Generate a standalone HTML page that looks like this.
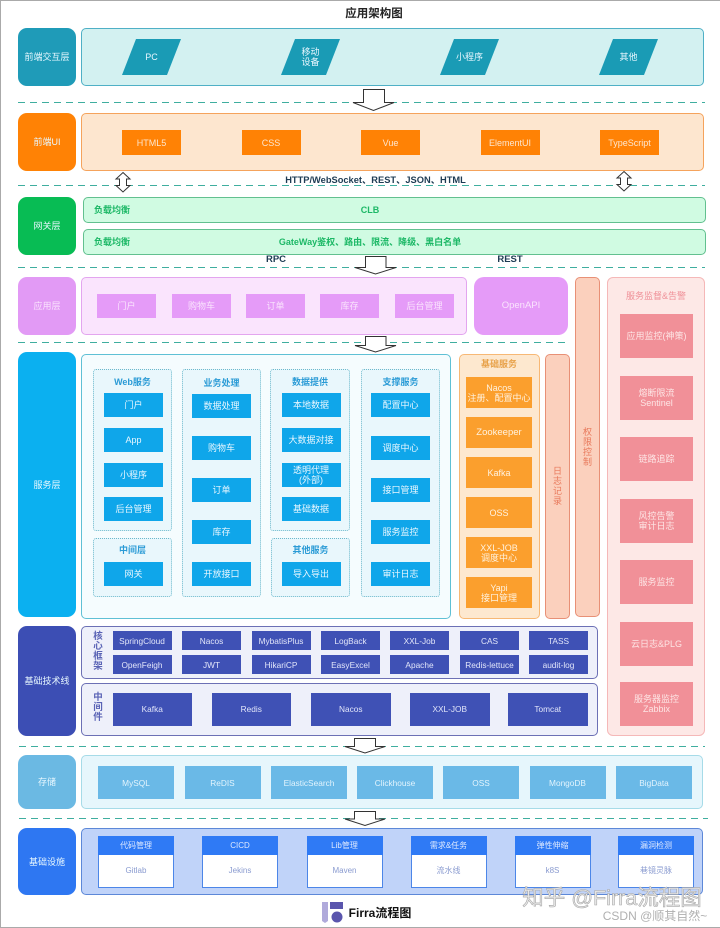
<!DOCTYPE html>
<html lang="zh">
<head>
<meta charset="utf-8">
<title>应用架构图</title>
<style>
html,body{margin:0;padding:0;background:#fff}
#p{position:relative;width:720px;height:928px;overflow:hidden;background:#fff;font-family:"Liberation Sans","Noto Sans CJK SC",sans-serif;font-size:9px;line-height:10px;filter:blur(.35px)}
#p div{position:absolute;box-sizing:border-box;display:flex;align-items:center;justify-content:center;text-align:center;white-space:nowrap}
.l{left:18px;width:58px;border-radius:9px;color:#e8f8ff;font-size:9px}
.b{color:#e9f7ff}
.t{font-weight:bold;font-size:9px}
.v{white-space:normal!important;width:12px}
.wb{background:#0fa6ea;width:59px;height:24px}
.svc{background:#e9f7fc;border:1px dotted #6db9cc;border-radius:3px}
.o{background:#fb9f2d;left:466px;width:66px;height:31px;color:#fff2df}
.m{background:#f19098;left:620px;width:73px;height:44px;color:#fde5e5;font-size:9px}
.c{background:#3f51b5;width:59px;height:19px;color:#e2e6fa;font-size:8.3px}
.mw{background:#3f51b5;width:79.5px;height:33.5px;top:692.5px;color:#e2e6fa;font-size:8.3px}
.s{background:#6ab9e7;width:76px;height:33px;top:766px;color:#e3f4fd;font-size:8.3px}
.h{background:#2f7af5;width:76px;height:19px;top:836px;color:#dfeaff;font-size:8px}
.d{background:#fff;border:1px solid #4c86e8;border-top:0;width:76px;height:33px;top:855px;color:#8a9bd0;font-size:8px}
.g{left:83px;width:623px;background:#d0fbe2;border:1px solid #62c08f;border-radius:5px}
.gt{color:#1cb866;font-weight:bold;font-size:9px}
.ui{background:#ff8205;width:59px;height:25px;top:130px;color:#fde6cf;font-size:9px}
.a{background:#e59bf8;width:59px;height:24px;top:294px;color:#fae4fd;font-size:9px}
svg{position:absolute;left:0;top:0}
</style>
</head>
<body>
<div id="p">
<div style="left:0;top:0;width:720px;height:928px;border:1px solid #aaa;border-right:0"></div>
<div style="left:324px;top:7px;width:100px;height:14px;font-weight:bold;font-size:11.5px;color:#222">应用架构图</div>

<div class="l" style="top:28px;height:58px;background:#1f9bb8">前端交互层</div>
<div style="left:81px;top:28px;width:623px;height:58px;background:#d3f1f1;border:1px solid #4fb0c6;border-radius:5px"></div>

<svg width="720" height="928" viewBox="0 0 720 928">
<g fill="#1a9bb5">
<polygon points="122,75 136,39 181,39 167,75"/>
<polygon points="281,75 295,39 340,39 326,75"/>
<polygon points="440,75 454,39 499,39 485,75"/>
<polygon points="599,75 613,39 658,39 644,75"/>
</g>
</svg>
<div class="b" style="left:131px;top:51px;width:41px;height:12px">PC</div>
<div class="b" style="left:290px;top:46px;width:41px;height:22px">移动<br>设备</div>
<div class="b" style="left:449px;top:51px;width:41px;height:12px">小程序</div>
<div class="b" style="left:608px;top:51px;width:41px;height:12px">其他</div>

<div class="l" style="top:113px;height:58px;background:#ff8205">前端UI</div>
<div style="left:81px;top:113px;width:623px;height:58px;background:#fde6cf;border:1px solid #f5a35c;border-radius:5px"></div>
<div class="ui" style="left:122px">HTML5</div>
<div class="ui" style="left:241.5px">CSS</div>
<div class="ui" style="left:361px">Vue</div>
<div class="ui" style="left:480.5px">ElementUI</div>
<div class="ui" style="left:600px">TypeScript</div>

<div style="left:266px;top:173px;width:219px;height:13px;font-weight:bold;font-size:9.3px;color:#1d3b53">HTTP/WebSocket、REST、JSON、HTML</div>

<div class="l" style="top:197px;height:58px;background:#08bc54">网关层</div>
<div class="g" style="top:197px;height:25.5px"></div>
<div class="g" style="top:229px;height:26px"></div>
<div class="gt" style="left:90px;top:203px;width:44px;height:13px">负载均衡</div>
<div class="gt" style="left:350px;top:203px;width:40px;height:13px">CLB</div>
<div class="gt" style="left:90px;top:235px;width:44px;height:13px">负载均衡</div>
<div class="gt" style="left:270px;top:235px;width:200px;height:13px">GateWay鉴权、路由、限流、降级、黑白名单</div>
<div style="left:256px;top:254px;width:40px;height:12px;font-weight:bold;font-size:9.5px;color:#1d3b53">RPC</div>
<div style="left:490px;top:254px;width:40px;height:12px;font-weight:bold;font-size:9.5px;color:#1d3b53">REST</div>

<div class="l" style="top:277px;height:58px;background:#e29af5;color:#fae4fd">应用层</div>
<div style="left:81px;top:277px;width:386px;height:57.5px;background:#fae4fd;border:1px solid #e3a5ef;border-radius:5px"></div>
<div class="a" style="left:97px">门户</div>
<div class="a" style="left:172px">购物车</div>
<div class="a" style="left:246px">订单</div>
<div class="a" style="left:320px">库存</div>
<div class="a" style="left:395px">后台管理</div>
<div style="left:474px;top:277px;width:94px;height:58px;background:#e59bf8;border-radius:10px;color:#fae4fd;font-size:9.5px">OpenAPI</div>

<div style="left:575px;top:277px;width:25px;height:340px;background:#fbd0bd;border:1px solid #e89076;border-radius:5px"></div>
<div class="v" style="left:581.5px;top:425px;height:44px;font-size:9px;color:#e8785a">权限控制</div>

<div style="left:607px;top:277px;width:98px;height:459px;background:#fde8e6;border:1px solid #f5b8b8;border-radius:6px"></div>
<div style="left:607px;top:290px;width:98px;height:12px;color:#ef8f97;font-size:9px">服务监督&amp;告警</div>
<div class="m" style="top:314px">应用监控(神策)</div>
<div class="m" style="top:376px">熔断限流<br>Sentinel</div>
<div class="m" style="top:437px">链路追踪</div>
<div class="m" style="top:499px">风控告警<br>审计日志</div>
<div class="m" style="top:560px">服务监控</div>
<div class="m" style="top:621.5px">云日志&amp;PLG</div>
<div class="m" style="top:682px">服务器监控<br>Zabbix</div>

<div class="l" style="top:352px;height:265px;background:#0bb0f0">服务层</div>
<div style="left:81px;top:354px;width:370px;height:265px;background:#f5fcfe;border:1px solid #5fc0d5;border-radius:5px"></div>
<div class="svc" style="left:93px;top:369px;width:79px;height:162px"></div>
<div class="svc" style="left:93px;top:538px;width:79px;height:59px"></div>
<div class="svc" style="left:182px;top:369px;width:79px;height:228px"></div>
<div class="svc" style="left:270px;top:369px;width:80px;height:162px"></div>
<div class="svc" style="left:271px;top:538px;width:79px;height:59px"></div>
<div class="svc" style="left:361px;top:369px;width:79px;height:228px"></div>

<div class="t" style="left:93px;top:376px;width:79px;height:12px;color:#2a9bd6">Web服务</div>
<div class="b wb" style="left:104px;top:393px">门户</div>
<div class="b wb" style="left:104px;top:428px">App</div>
<div class="b wb" style="left:104px;top:462.5px">小程序</div>
<div class="b wb" style="left:104px;top:496.5px">后台管理</div>
<div class="t" style="left:93px;top:544px;width:79px;height:12px;color:#2a9bd6">中间层</div>
<div class="b wb" style="left:104px;top:562px">网关</div>

<div class="t" style="left:182px;top:377px;width:79px;height:12px;color:#2a9bd6">业务处理</div>
<div class="b wb" style="left:192px;top:394px">数据处理</div>
<div class="b wb" style="left:192px;top:436px">购物车</div>
<div class="b wb" style="left:192px;top:478px">订单</div>
<div class="b wb" style="left:192px;top:520px">库存</div>
<div class="b wb" style="left:192px;top:562px">开放接口</div>

<div class="t" style="left:270px;top:376px;width:80px;height:12px;color:#2a9bd6">数据提供</div>
<div class="b wb" style="left:281.5px;top:393px">本地数据</div>
<div class="b wb" style="left:281.5px;top:428px">大数据对接</div>
<div class="b wb" style="left:281.5px;top:463px">透明代理<br>(外部)</div>
<div class="b wb" style="left:281.5px;top:497px">基础数据</div>
<div class="t" style="left:271px;top:544px;width:79px;height:12px;color:#2a9bd6">其他服务</div>
<div class="b wb" style="left:281.5px;top:562px">导入导出</div>

<div class="t" style="left:361px;top:376px;width:79px;height:12px;color:#2a9bd6">支撑服务</div>
<div class="b wb" style="left:371px;top:393px">配置中心</div>
<div class="b wb" style="left:371px;top:435.5px">调度中心</div>
<div class="b wb" style="left:371px;top:478px">接口管理</div>
<div class="b wb" style="left:371px;top:520px">服务监控</div>
<div class="b wb" style="left:371px;top:561.5px">审计日志</div>

<div style="left:459px;top:354px;width:80.5px;height:265px;background:#fde8cf;border:1px solid #f7b875;border-radius:5px"></div>
<div style="left:459px;top:358px;width:80px;height:12px;color:#e8a24a;font-size:9px;font-weight:bold">基础服务</div>
<div class="o" style="top:377px">Nacos<br>注册、配置中心</div>
<div class="o" style="top:417px;font-size:9.5px">Zookeeper</div>
<div class="o" style="top:457px">Kafka</div>
<div class="o" style="top:497px">OSS</div>
<div class="o" style="top:537px">XXL-JOB<br>调度中心</div>
<div class="o" style="top:577px">Yapi<br>接口管理</div>

<div style="left:545px;top:354px;width:25px;height:265px;background:#fbd0bd;border:1px solid #e89076;border-radius:5px"></div>
<div class="v" style="left:551.5px;top:464px;height:44px;font-size:9px;color:#e8785a">日志记录</div>

<div class="l" style="top:626px;height:110px;background:#3c4eb4">基础技术线</div>
<div style="left:81px;top:626px;width:517px;height:53px;background:#eef0fa;border:1px solid #6c70b5;border-radius:5px"></div>
<div style="left:81px;top:682.5px;width:517px;height:53px;background:#eef0fa;border:1px solid #6c70b5;border-radius:5px"></div>
<div class="v" style="left:92px;top:632px;height:40px;font-size:9.5px;font-weight:bold;color:#5a63b5">核心框架</div>
<div class="v" style="left:92px;top:693px;height:30px;font-size:9.5px;font-weight:bold;color:#5a63b5">中间件</div>

<div class="c" style="left:112.5px;top:631px">SpringCloud</div>
<div class="c" style="left:182px;top:631px">Nacos</div>
<div class="c" style="left:251.5px;top:631px">MybatisPlus</div>
<div class="c" style="left:321px;top:631px">LogBack</div>
<div class="c" style="left:390px;top:631px">XXL-Job</div>
<div class="c" style="left:460px;top:631px">CAS</div>
<div class="c" style="left:529px;top:631px">TASS</div>
<div class="c" style="left:112.5px;top:655px">OpenFeigh</div>
<div class="c" style="left:182px;top:655px">JWT</div>
<div class="c" style="left:251.5px;top:655px">HikariCP</div>
<div class="c" style="left:321px;top:655px">EasyExcel</div>
<div class="c" style="left:390px;top:655px">Apache</div>
<div class="c" style="left:460px;top:655px">Redis-lettuce</div>
<div class="c" style="left:529px;top:655px">audit-log</div>

<div class="mw" style="left:112.5px">Kafka</div>
<div class="mw" style="left:211.5px">Redis</div>
<div class="mw" style="left:311px">Nacos</div>
<div class="mw" style="left:410px">XXL-JOB</div>
<div class="mw" style="left:508px">Tomcat</div>

<div class="l" style="top:755px;height:54px;background:#6bb9e3">存储</div>
<div style="left:81px;top:755px;width:622px;height:54px;background:#e6f6fc;border:1px solid #a6dbe8;border-radius:5px"></div>
<div class="s" style="left:98px">MySQL</div>
<div class="s" style="left:184.5px">ReDIS</div>
<div class="s" style="left:271px">ElasticSearch</div>
<div class="s" style="left:357px">Clickhouse</div>
<div class="s" style="left:443px">OSS</div>
<div class="s" style="left:529.5px">MongoDB</div>
<div class="s" style="left:616px">BigData</div>

<div class="l" style="top:828px;height:67px;background:#2e77f2">基础设施</div>
<div style="left:81px;top:828px;width:622px;height:67px;background:#c0d3f9;border:1px solid #5d88d8;border-radius:5px"></div>
<div class="h" style="left:98px">代码管理</div><div class="d" style="left:98px">Gitlab</div>
<div class="h" style="left:202px">CICD</div><div class="d" style="left:202px">Jekins</div>
<div class="h" style="left:306.5px">Lib管理</div><div class="d" style="left:306.5px">Maven</div>
<div class="h" style="left:410.5px">需求&amp;任务</div><div class="d" style="left:410.5px">流水线</div>
<div class="h" style="left:514.5px">弹性伸缩</div><div class="d" style="left:514.5px">k8S</div>
<div class="h" style="left:618px">漏洞检测</div><div class="d" style="left:618px">巷镜灵脉</div>

<svg width="720" height="928" viewBox="0 0 720 928">
<g stroke="#3fae9f" stroke-width="1" stroke-dasharray="7 5" fill="none">
<path d="M18 102.5H705"/>
<path d="M18 185.5H705"/>
<path d="M18 267.5H705"/>
<path d="M18 342.5H568"/>
<path d="M19 746.5H705"/>
<path d="M19 818.5H708"/>
</g>
<g fill="#fff" stroke="#333" stroke-width="1" stroke-linejoin="miter">
<polygon points="363.5,89.5 384.5,89.5 384.5,102.5 394,102.5 373.5,110.5 353,102.5 363.5,102.5"/>
<polygon points="365.5,256.5 386,256.5 386,267.5 396,267.5 375.5,274 355,267.5 365.5,267.5"/>
<polygon points="365.5,336.5 386,336.5 386,345.5 396,345.5 375.5,352 355,345.5 365.5,345.5"/>
<polygon points="354.5,738.5 375.5,738.5 375.5,746.5 385,746.5 365,753 345,746.5 354.5,746.5"/>
<polygon points="354.5,811.5 375.5,811.5 375.5,819 385,819 365,825.5 345,819 354.5,819"/>
<polygon points="123,172.5 130,179 126.5,179 126.5,185.5 130,185.5 123,192 116,185.5 119.5,185.5 119.5,179 116,179"/>
<polygon points="624,171.5 631,178 627.5,178 627.5,184.5 631,184.5 624,191 617,184.5 620.5,184.5 620.5,178 617,178"/>
</g>
<g>
<path d="M322 902H328V921L325 923L322 921Z" fill="#b0aadb"/>
<rect x="330" y="902" width="13" height="7" fill="#5a55ad"/>
<circle cx="337" cy="917" r="5.5" fill="#5a55ad"/>
</g>
</svg>

<div style="left:347px;top:906px;width:66px;height:14px;font-weight:bold;font-size:12px;color:#111">Firra流程图</div>
<div style="left:512px;top:883px;width:200px;height:30px;font-size:21.5px;line-height:30px;color:#e9e9e9;-webkit-text-stroke:.6px #a8a8a8">知乎 @Firra流程图</div>
<div style="left:596px;top:908px;width:118px;height:15px;font-size:12px;color:#b0b0b0">CSDN @顺其自然~</div>
</div>
</body>
</html>
